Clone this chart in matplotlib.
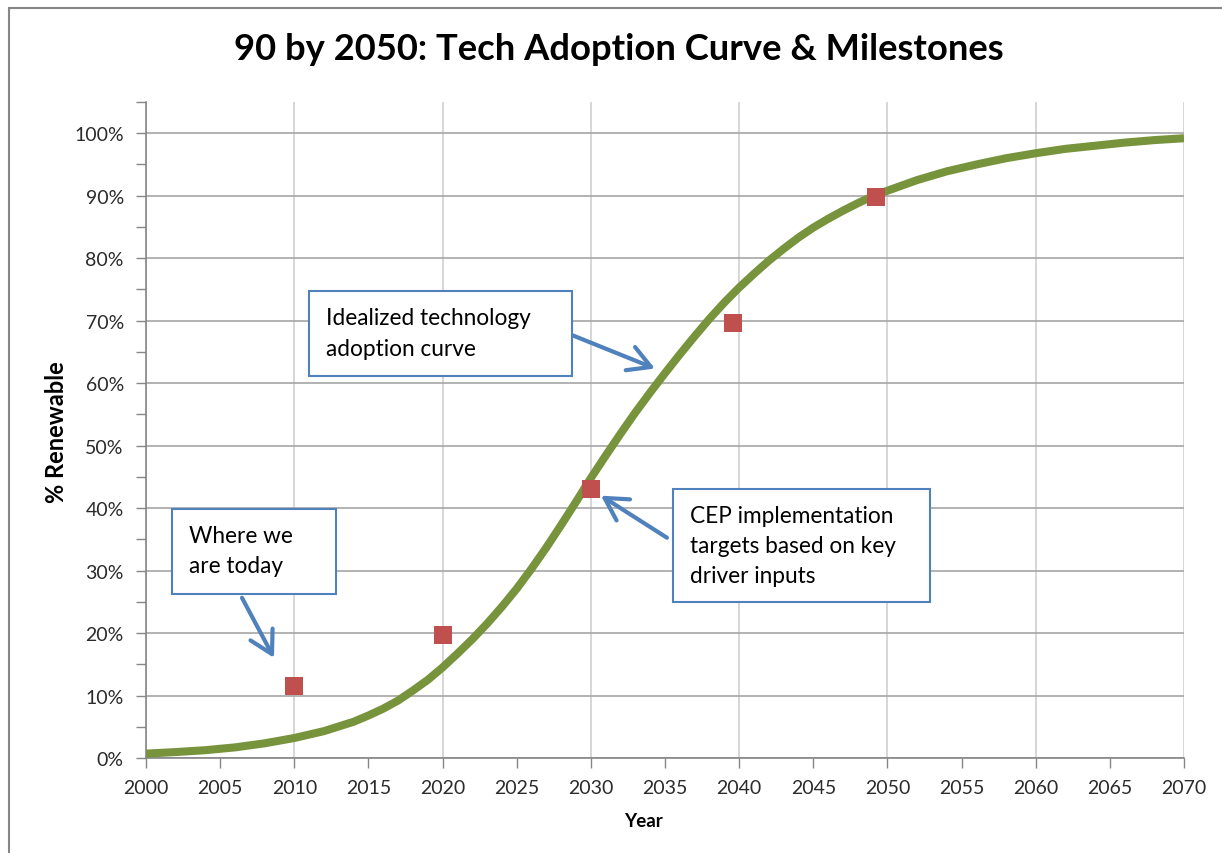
import matplotlib
matplotlib.use('Agg')
import matplotlib.pyplot as plt
from matplotlib.patches import Rectangle, FancyArrowPatch
from matplotlib.ticker import MultipleLocator, FuncFormatter

# 곡선 데이터 (그림에서 읽은 값, %)
curve_years = [2000, 2002, 2004, 2006, 2008, 2010, 2012, 2014, 2015, 2016,
               2017, 2018, 2019, 2020, 2021, 2022, 2023, 2024, 2025, 2026,
               2027, 2028, 2029, 2030, 2031, 2032, 2033, 2034, 2035, 2036,
               2037, 2038, 2039, 2040, 2041, 2042, 2043, 2044, 2045, 2046,
               2047, 2048, 2049, 2050, 2052, 2054, 2056, 2058, 2060, 2062,
               2064, 2066, 2068, 2070]
curve_pct = [0.7, 0.95, 1.25, 1.7, 2.35, 3.2, 4.3, 5.8, 6.8, 7.9,
             9.2, 10.8, 12.5, 14.5, 16.7, 19.0, 21.5, 24.2, 27.1, 30.3,
             33.7, 37.3, 41.0, 44.8, 48.4, 51.9, 55.3, 58.5, 61.6, 64.6,
             67.5, 70.3, 72.9, 75.3, 77.5, 79.6, 81.5, 83.3, 84.9, 86.3,
             87.6, 88.8, 89.9, 90.8, 92.5, 93.9, 95.0, 96.0, 96.8, 97.5,
             98.0, 98.5, 98.9, 99.2]

# CEP 목표치
target_years = [2010, 2020, 2030, 2039.6, 2049.2]
target_pct = [11.5, 19.7, 43.0, 69.6, 89.8]

title = '90 by 2050: Tech Adoption Curve & Milestones'
notes = ['Where we\nare today',
         'Idealized technology\nadoption curve',
         'CEP implementation\ntargets based on key\ndriver inputs']

plt.rcParams['font.family'] = ['Lato', 'DejaVu Sans']

W, H = 1222, 854
fig = plt.figure(figsize=(W / 100, H / 100), dpi=100)
ax = fig.add_axes([146 / W, 1 - 759 / H, (1184 - 146) / W, (759 - 103) / H])

ax.plot(curve_years, [v / 100 for v in curve_pct], color='#77933C', lw=5.8,
        solid_capstyle='butt', solid_joinstyle='round', zorder=3)
ax.plot(target_years, [v / 100 for v in target_pct], 's', color='#C0504D',
        markersize=13, markeredgewidth=0, zorder=4)

ax.set_xlim(2000, 2070)
ax.set_ylim(0, 1.05)

# 축 눈금
ax.xaxis.set_major_locator(MultipleLocator(10))
ax.xaxis.set_minor_locator(MultipleLocator(5))
ax.xaxis.set_minor_formatter(FuncFormatter(lambda v, p: f'{int(round(v))}'))
ax.yaxis.set_major_locator(MultipleLocator(0.1))
ax.yaxis.set_minor_locator(MultipleLocator(0.05))
ax.yaxis.set_major_formatter(FuncFormatter(lambda v, p: f'{v * 100:.0f}%'))
ax.tick_params(axis='both', which='both', direction='out', length=7,
               width=1, color='#868686', labelsize=14, labelcolor='#2b2b2b')
ax.tick_params(axis='x', which='both', pad=8)
ax.tick_params(axis='y', which='both', pad=9)

ax.xaxis.grid(True, which='major', color='#CFCFCF', lw=1.2)
ax.yaxis.grid(True, which='major', color='#A6A6A6', lw=1.2)
ax.set_axisbelow(True)

for s in ['top', 'right']:
    ax.spines[s].set_visible(False)
for s in ['left', 'bottom']:
    ax.spines[s].set_color('#868686')
    ax.spines[s].set_linewidth(1.2)

fig.text(619 / W, 1 - 50 / H, title, ha='center', va='center',
         fontsize=26.2, fontweight='bold', color='black')
fig.text(643 / W, 1 - 822 / H, 'Year', ha='center', va='center',
         fontsize=13.5, fontweight='bold')
fig.text(57 / W, 1 - 432 / H, '% Renewable', ha='center', va='center',
         rotation=90, fontsize=17, fontweight='bold')

# 차트 외곽선
fig.patches.append(Rectangle((9 / W, -0.1), 1.2, (H - 9) / H + 0.1,
                             transform=fig.transFigure, fill=False,
                             edgecolor='#868686', lw=1.5))

# 주석 상자와 화살표 (픽셀 좌표 -> 데이터 좌표)
def px(x, y):
    return 2000 + (x - 146) / 14.83, (759 - y) / 624


def note_box(x0, y0, x1, y1, text):
    a = px(x0, y1)
    b = px(x1, y0)
    ax.add_patch(Rectangle(a, b[0] - a[0], b[1] - a[1], facecolor='white',
                           edgecolor='#4F81BD', lw=1.5, zorder=5,
                           clip_on=False))
    tx, ty = px(x0 + 17, y0 + 16)
    ax.text(tx, ty, text, ha='left', va='top', fontsize=16.3,
            color='black', linespacing=1.55, zorder=6)


def note_arrow(x0, y0, x1, y1):
    ax.add_patch(FancyArrowPatch(px(x0, y0), px(x1, y1),
                                 arrowstyle='->,head_length=0.8,head_width=0.45',
                                 mutation_scale=20, color='#4F81BD', lw=3,
                                 zorder=6, clip_on=False, shrinkA=0, shrinkB=0))


note_box(172, 510, 336, 595, notes[0])
note_box(309, 293, 572, 377, notes[1])
note_box(673, 490, 930, 603, notes[2])
note_arrow(242, 599, 274, 659)
note_arrow(573, 337, 655, 370)
note_arrow(667, 539, 601, 497)

fig.savefig('out.png', dpi=100)
